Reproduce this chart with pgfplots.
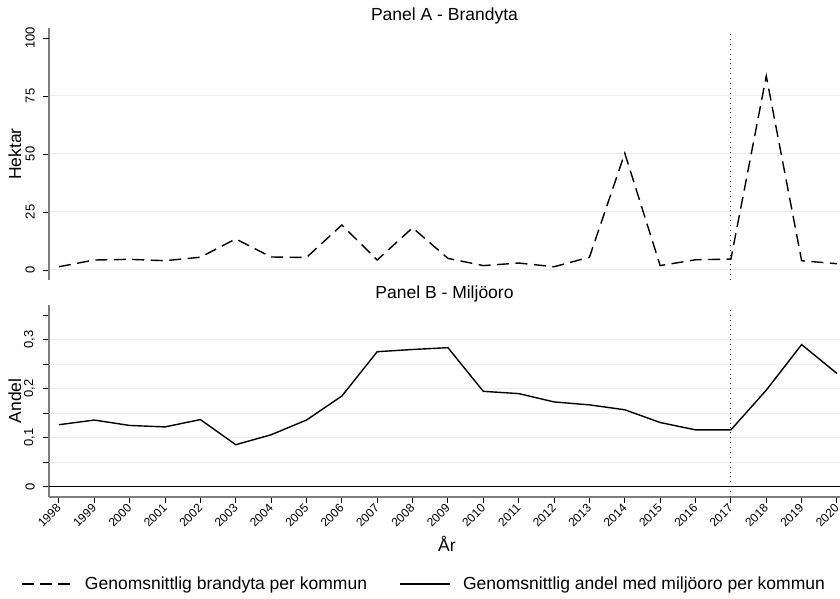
\documentclass[border=0pt]{standalone}
\usepackage{pgfplots}
\pgfplotsset{compat=1.18}
\usepackage{fontspec}
\setmainfont{Liberation Sans}
\definecolor{gridc}{RGB}{230,238,241}
\definecolor{axc}{RGB}{125,125,125}

\pgfplotstableread{
year ha
1998 1.4
1999 4.3
2000 4.6
2001 4.0
2002 5.5
2003 13.4
2004 5.6
2005 5.4
2006 19.4
2007 4.3
2008 18.2
2009 5.0
2010 1.9
2011 3.0
2012 1.4
2013 5.5
2014 50.3
2015 1.9
2016 4.4
2017 4.7
2018 83.6
2019 4.0
2020 2.7
}\brand

\pgfplotstableread{
year andel
1998 0.1265
1999 0.136
2000 0.125
2001 0.122
2002 0.137
2003 0.0857
2004 0.106
2005 0.136
2006 0.185
2007 0.2755
2008 0.280
2009 0.2837
2010 0.1946
2011 0.190
2012 0.173
2013 0.167
2014 0.157
2015 0.131
2016 0.116
2017 0.116
2018 0.197
2019 0.290
2020 0.231
}\miljo

\newcommand{\xtickfont}{\fontsize{12}{14}\selectfont}
\newcommand{\ytickfont}{\fontsize{13}{15}\selectfont}
\pgfplotsset{
  common/.style={
    scale only axis, width=791pt,
    xmin=1997.72, xmax=2020.085,
    font=\fontsize{17.5}{21}\selectfont,
    /pgf/number format/assume math mode=true,
    /pgf/number format/1000 sep={},
    axis line style={axc, line width=1.6pt, -},
    tick align=inside, major tick length=-6pt, minor tick length=-6pt,
    tick style={black, line width=0.9pt},
    major grid style={gridc, line width=1pt},
    yticklabel style={font=\ytickfont, rotate=90, anchor=south, inner sep=0pt},
    yticklabel shift=14pt,
    xticklabel style={font=\xtickfont},
    ylabel style={at={(axis description cs:-0.043,0.5)}, anchor=center},
    title style={at={(axis description cs:0.5,1)}, anchor=base},
  }
}

\begin{document}
\begin{tikzpicture}[x=1pt,y=1pt]
\begin{axis}[common, at={(49pt,319pt)}, anchor=south west, height=252pt,
  ymin=-4.31, ymax=104.3,
  axis y line*=left, axis x line=none,
  ytick={0,25,50,75}, ymajorgrids,
  extra y ticks={100}, extra y tick style={grid=none},
  ylabel={Hektar},
  title={Panel A - Brandyta}, title style={yshift=1pt}]
\addplot[forget plot, black!80, line width=0.9pt, dash pattern=on 0.9pt off 4pt] coordinates {(2017,-4.31) (2017,102.6)};
\addplot[black, line width=1.4pt, dash pattern=on 12pt off 6.5pt] table[x=year, y=ha] {\brand};
\end{axis}

\begin{axis}[common, at={(49pt,102pt)}, anchor=south west, height=192pt,
  ymin=-0.021, ymax=0.3708,
  axis y line*=left, axis x line*=bottom,
  xtick={1998,...,2020},
  xticklabel style={rotate=45, anchor=east, inner sep=0pt},
  xticklabel shift=9pt,
  ytick={0,0.1,0.2,0.3}, yticklabels={0,{0,1},{0,2},{0,3}},
  ymajorgrids,
  extra y ticks={0.05,0.15,0.25}, extra y tick labels={},
  minor ytick={0.35},
  ylabel={Andel},
  xlabel={År}, xlabel style={at={(axis description cs:0.503,-0.245)}, anchor=center},
  title={Panel B - Miljöoro}, title style={yshift=0.7pt},
  legend style={at={(axis description cs:-0.0759,-0.453)}, anchor=west,
    draw=none, fill=none, inner sep=0pt, outer sep=0pt,
    legend columns=2, column sep=0pt,
    nodes={inner sep=0pt},
    font=\fontsize{17.5}{21}\selectfont},
  legend image code/.code={\path[draw=none,fill=none] (-33pt,0pt) -- (63pt,0pt); \draw[#1] (0pt,0pt) -- (50pt,0pt);},
  ]
\addlegendimage{black, line width=1.4pt, dash pattern=on 12pt off 6pt}
\addlegendentry{Genomsnittlig brandyta per kommun}
\addplot[forget plot, black, line width=1.3pt] coordinates {(1997.72,0) (2020.085,0)};
\addplot[forget plot, black!80, line width=0.9pt, dash pattern=on 0.9pt off 4pt] coordinates {(2017,-0.021) (2017,0.3647)};
\addplot[black, line width=1.4pt] table[x=year, y=andel] {\miljo};
\addlegendentry{Genomsnittlig andel med miljöoro per kommun}
\end{axis}
\pgfresetboundingbox
\useasboundingbox (0pt,0pt) rectangle (840pt,599pt);
\end{tikzpicture}
\end{document}
